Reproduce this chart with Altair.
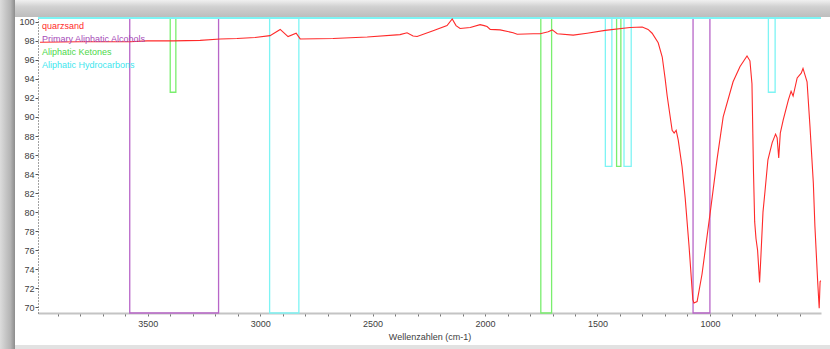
import altair as alt
import pandas as pd

# ---- spectrum (wavenumber cm-1, transmittance %) ----
wavenumber = [3979, 3801, 3579, 3503, 3387, 3267, 3178, 3103, 3023, 2956, 2911, 2876, 2840, 2822,
              2676, 2524, 2378, 2347, 2320, 2302, 2231, 2169, 2146, 2129, 2111, 2066, 2022, 2004,
              1991, 1977, 1933, 1875, 1857, 1786, 1755, 1719, 1701, 1679, 1608, 1546, 1466, 1355,
              1301, 1275, 1257, 1230, 1212, 1199, 1190, 1168, 1159, 1150, 1141, 1124, 1110, 1093,
              1076, 1071, 1057, 1035, 999, 968, 941, 897, 866, 835, 822, 813, 806, 801, 795, 788,
              779, 773, 764, 755, 742, 723, 708, 701, 694, 687, 674, 651, 639, 630, 612, 594, 586,
              577, 568, 555, 540, 533, 521, 514, 510, 507]
transmittance = [97.85, 97.9, 97.9, 98.0, 98.0, 98.05, 98.2, 98.25, 98.35, 98.55, 99.2, 98.45, 98.8, 98.2,
                 98.25, 98.4, 98.65, 98.85, 98.5, 98.45, 99.05, 99.6, 100.3, 99.6, 99.3, 99.4, 99.7, 99.6,
                 99.5, 99.2, 99.15, 98.85, 98.7, 98.75, 98.75, 98.95, 99.15, 98.75, 98.6, 98.8, 99.1, 99.4,
                 99.45, 99.2, 98.8, 97.8, 96.3, 94.0, 92.2, 88.6, 88.3, 88.6, 87.6, 84.8, 81.5, 76.5,
                 70.8, 70.45, 70.6, 73.5, 79.9, 85.6, 90.0, 93.7, 95.3, 96.4, 95.9, 93.5, 84.0, 79.0, 77.2, 76.0,
                 72.6, 75.5, 80.0, 82.2, 85.5, 87.3, 88.2, 87.8, 85.7, 88.3, 89.7, 91.8, 92.7, 92.2, 94.1, 94.6, 95.1,
                 94.4, 93.7, 89.0, 83.0, 78.5, 72.8, 69.9, 72.7, 72.8]

# ---- correlation bands ----
band_group = ["Primary Aliphatic Alcohols", "Primary Aliphatic Alcohols",
              "Aliphatic Ketones", "Aliphatic Ketones", "Aliphatic Ketones",
              "Aliphatic Hydrocarbons", "Aliphatic Hydrocarbons", "Aliphatic Hydrocarbons",
              "Aliphatic Hydrocarbons"]
band_start = [3580, 1075, 3400, 1752, 1415, 2958, 1465, 1382, 740]
band_end = [3185, 1000, 3375, 1704, 1396, 2828, 1436, 1350, 710]
band_bottom = [69.4, 69.4, 92.6, 69.4, 84.8, 69.4, 84.8, 84.8, 92.6]

legend_names = ["quarzsand", "Primary Aliphatic Alcohols", "Aliphatic Ketones", "Aliphatic Hydrocarbons"]
legend_colors = ["#ff2a2a", "#a64bb8", "#4ed84a", "#3ee6ee"]
band_colors = ["#b866c8", "#7aee6e", "#7ef4f4"]

x_min, x_max = 506, 3988
y_min, y_max = 69.4, 100.4

W, H = 783, 295
FONT = "Liberation Sans"

spec = pd.DataFrame({"wn": wavenumber, "T": transmittance})
bands = pd.DataFrame({"group": band_group, "start": band_start, "end": band_end,
                      "bottom": band_bottom, "top": [y_max] * len(band_group)})

xscale = alt.Scale(domain=[x_min, x_max], reverse=True, nice=False, zero=False)
yscale = alt.Scale(domain=[y_min, y_max], nice=False, zero=False)

xaxis = alt.Axis(values=list(range(600, 4000, 100)),
                 labelExpr="datum.value % 500 == 0 ? datum.label : ''",
                 format="d", title="Wellenzahlen (cm-1)", grid=False,
                 domainColor="#c4c4c4", domainWidth=2, tickColor="#777777", tickSize=3,
                 labelFont=FONT, labelFontSize=9, labelColor="#404040", labelPadding=3,
                 titleFont=FONT, titleFontSize=9, titleFontWeight="normal", titleColor="#404040",
                 titlePadding=4)
yaxis = alt.Axis(values=list(range(70, 101, 2)), title=None, grid=False,
                 domainColor="#444444", domainDash=[1, 2], domainWidth=1,
                 tickColor="#555555", tickSize=3, labelPadding=1,
                 labelFont=FONT, labelFontSize=9, labelColor="#404040")

base = alt.Chart(spec)

# decorative window frame
frame_top = alt.Chart(pd.DataFrame({"k": [0]})).mark_rect(
    color=alt.Gradient(gradient="linear", x1=0, y1=0, x2=0, y2=1,
                       stops=[alt.GradientStop(offset=0, color="#f0f0f0"),
                              alt.GradientStop(offset=0.4, color="#d0d0d0"),
                              alt.GradientStop(offset=1, color="#bdbdbd")])
).encode(x=alt.value(-38), x2=alt.value(W + 9), y=alt.value(-18), y2=alt.value(-1))
frame_left = alt.Chart(pd.DataFrame({"k": [0]})).mark_rect(
    color=alt.Gradient(gradient="linear", x1=0, y1=0, x2=1, y2=0,
                       stops=[alt.GradientStop(offset=0, color="#dcdcdc"),
                              alt.GradientStop(offset=0.7, color="#b4b4b4"),
                              alt.GradientStop(offset=1, color="#8c8c8c")])
).encode(x=alt.value(-38), x2=alt.value(-23), y=alt.value(-18), y2=alt.value(H + 36))
frame_bottom = alt.Chart(pd.DataFrame({"k": [0]})).mark_rect(color="#e2e2e2").encode(
    x=alt.value(-23), x2=alt.value(W + 9), y=alt.value(H + 32), y2=alt.value(H + 36))

band_layer = alt.Chart(bands).mark_rect(filled=False, strokeWidth=1.3).encode(
    x=alt.X("start:Q", scale=xscale, axis=xaxis), x2="end:Q",
    y=alt.Y("top:Q", scale=yscale, axis=yaxis), y2="bottom:Q",
    color=alt.Color("group:N", legend=None,
                    scale=alt.Scale(domain=legend_names[1:], range=band_colors)))

top_rule = alt.Chart(pd.DataFrame({"y": [y_max]})).mark_rule(
    color=band_colors[2], strokeWidth=1.8).encode(y=alt.Y("y:Q", scale=yscale, axis=yaxis))

line = base.mark_line(color="#ff2a2a", strokeWidth=1.1, interpolate="linear").encode(
    x=alt.X("wn:Q", scale=xscale, axis=xaxis),
    y=alt.Y("T:Q", scale=yscale, axis=yaxis),
    order=alt.Order("wn:Q", sort="descending"))

legend_layers = []
for i, (name, col) in enumerate(zip(legend_names, legend_colors)):
    legend_layers.append(
        alt.Chart(pd.DataFrame({"label": [name]})).mark_text(
            align="left", baseline="middle", font=FONT, fontSize=9, color=col
        ).encode(text="label:N", x=alt.value(4), y=alt.value(8 + 13 * i))
    )

chart = alt.layer(frame_top, frame_left, frame_bottom, band_layer, top_rule, line, *legend_layers).properties(
    width=W, height=H, background="white",
    padding={"left": 38, "top": 18, "right": 9, "bottom": 36},
    autosize=alt.AutoSizeParams(type="none"),
).configure_view(stroke=None)

chart.save("out.html", embed_options={"renderer": "svg", "actions": False})
